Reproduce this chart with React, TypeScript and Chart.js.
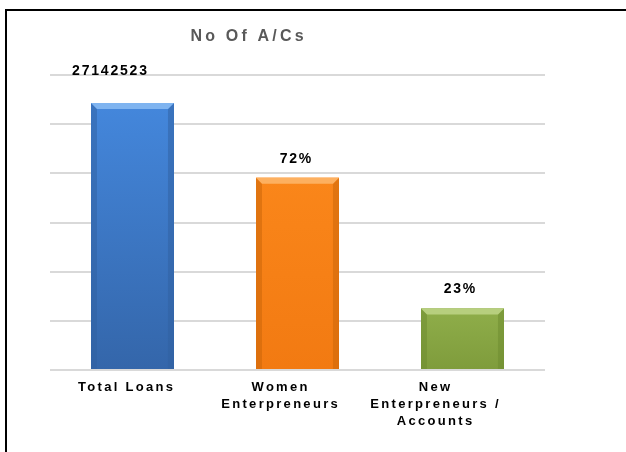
import { useEffect, useRef } from "react";
import { Chart, registerables } from "chart.js";

Chart.register(...registerables);

const chartTitle = "No Of A/Cs";
const categories = [["Total Loans"], ["Women", "Enterpreneurs"], ["New", "Enterpreneurs /", "Accounts"]];
const values = [27142523, 19542617, 6242780];
const valueLabels = ["27142523", "72%", "23%"];
const axisMin = 0;
const axisMax = 30000000;
const axisStep = 5000000;

const faceTop = ["#4487dc", "#fa861a", "#8fae4a"];
const faceBottom = ["#3466aa", "#f27a12", "#7f9c3c"];
const bevelTop = ["#7fb4f0", "#fdb060", "#b7cf7e"];
const bevelSide = ["#2f5f9f", "#c86408", "#6b8a2e"];

const FONT = "'Liberation Sans', Arial, sans-serif";

function spacedText(ctx: CanvasRenderingContext2D, text: string, cx: number, cy: number, spacing: number) {
  (ctx as any).letterSpacing = spacing + "px";
  const w = ctx.measureText(text).width;
  ctx.textAlign = "left";
  ctx.textBaseline = "middle";
  ctx.fillText(text, cx - (w - spacing) / 2, cy);
  (ctx as any).letterSpacing = "0px";
}

const decorPlugin = {
  id: "decor",
  afterDatasetsDraw(chart: any) {
    const ctx: CanvasRenderingContext2D = chart.ctx;
    const meta = chart.getDatasetMeta(0);
    meta.data.forEach((bar: any, i: number) => {
      const { x, y, base, width } = bar.getProps(["x", "y", "base", "width"], true);
      const l = x - width / 2;
      const r = x + width / 2;
      const b = Math.min(6, (base - y) / 3);
      ctx.save();
      const g = ctx.createLinearGradient(0, y, 0, base);
      g.addColorStop(0, faceTop[i]);
      g.addColorStop(1, faceBottom[i]);
      ctx.fillStyle = g;
      ctx.fillRect(l, y, width, base - y);
      ctx.fillStyle = bevelSide[i];
      ctx.globalAlpha = 0.5;
      ctx.beginPath();
      ctx.moveTo(l, y); ctx.lineTo(l + b, y + b); ctx.lineTo(l + b, base); ctx.lineTo(l, base); ctx.closePath();
      ctx.fill();
      ctx.beginPath();
      ctx.moveTo(r, y); ctx.lineTo(r - b, y + b); ctx.lineTo(r - b, base); ctx.lineTo(r, base); ctx.closePath();
      ctx.fill();
      ctx.globalAlpha = 1;
      ctx.fillStyle = bevelTop[i];
      ctx.beginPath();
      ctx.moveTo(l, y); ctx.lineTo(r, y); ctx.lineTo(r - b, y + b); ctx.lineTo(l + b, y + b); ctx.closePath();
      ctx.fill();
      ctx.restore();
    });
  },
  afterDraw(chart: any) {
    const ctx: CanvasRenderingContext2D = chart.ctx;
    const meta = chart.getDatasetMeta(0);
    ctx.save();
    ctx.fillStyle = "#595959";
    ctx.font = `bold 16px ${FONT}`;
    spacedText(ctx, chartTitle, 247, 37, 3.2);
    const ldx = [-23, -2, -3];
    const ldy = [-32, -19, -19];
    ctx.fillStyle = "#000";
    ctx.font = `bold 14px ${FONT}`;
    meta.data.forEach((bar: any, i: number) => {
      const { x, y } = bar.getProps(["x", "y"], true);
      spacedText(ctx, valueLabels[i], x + ldx[i], y + ldy[i], 1.8);
    });
    const cdx = [-7, -18, -28];
    const bottom = chart.chartArea.bottom;
    ctx.font = `bold 13px ${FONT}`;
    meta.data.forEach((bar: any, i: number) => {
      const { x } = bar.getProps(["x"], true);
      categories[i].forEach((line, k) => {
        spacedText(ctx, line, x + cdx[i], bottom + 17 + k * 17, 2.3);
      });
    });
    ctx.restore();
  },
};

export default function App() {
  const ref = useRef<HTMLCanvasElement | null>(null);
  useEffect(() => {
    if (!ref.current) return;
    const chart = new Chart(ref.current, {
      type: "bar",
      data: {
        labels: categories.map((c) => c.join(" ")),
        datasets: [
          {
            data: values,
            backgroundColor: faceTop,
            borderWidth: 0,
            categoryPercentage: 1,
            barPercentage: 0.503,
          },
        ],
      },
      options: {
        animation: false,
        responsive: false,
        devicePixelRatio: 1,
        layout: { padding: { left: 50, right: 81, top: 75, bottom: 82 } },
        plugins: { legend: { display: false }, title: { display: false }, tooltip: { enabled: false } },
        scales: {
          x: { display: false },
          y: {
            min: axisMin,
            max: axisMax,
            ticks: { display: false, stepSize: axisStep },
            grid: { color: "#d9d9d9", lineWidth: 2, drawTicks: false },
            border: { display: false },
          },
        },
      },
      plugins: [decorPlugin],
    });
    return () => chart.destroy();
  }, []);
  return (
    <div style={{ position: "fixed", left: 0, top: 0, width: 626, height: 452, background: "#fff", overflow: "hidden" }}>
      <canvas ref={ref} width={626} height={452} style={{ position: "absolute", left: 0, top: 0 }} />
      <div
        style={{
          position: "absolute",
          left: 5,
          top: 9,
          width: 700,
          height: 600,
          border: "2px solid #000",
          boxSizing: "border-box",
          pointerEvents: "none",
        }}
      />
    </div>
  );
}
